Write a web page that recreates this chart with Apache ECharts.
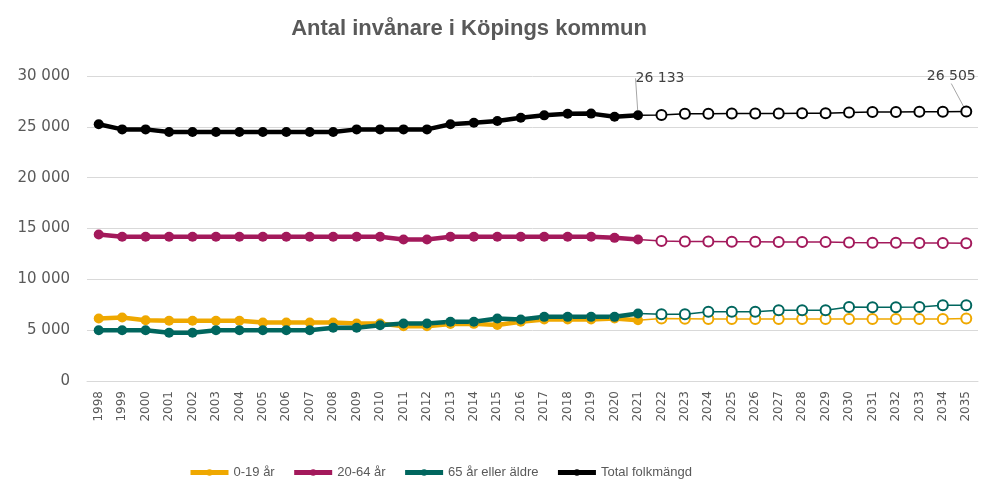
<!DOCTYPE html>
<html>
<head>
<meta charset="utf-8">
<script src="https://cdn.jsdelivr.net/npm/echarts@6/dist/echarts.min.js"></script>
<style>
* { margin: 0; padding: 0; }
html, body { background: #fff; }
#main { width: 993px; height: 483px; }
</style>
</head>
<body>
<div id="main"></div>
<script>
// years
var years = ['1998','1999','2000','2001','2002','2003','2004','2005','2006','2007','2008','2009','2010',
    '2011','2012','2013','2014','2015','2016','2017','2018','2019','2020','2021',
    '2022','2023','2024','2025','2026','2027','2028','2029','2030','2031','2032','2033','2034','2035']

// utfall 1998-2021
var young = [6150,6250,5980,5920,5920,5920,5920,5760,5760,5760,5760,5660,5660,5390,5390,5600,5620,5500,5820,6050,6050,6050,6150,5980]
var adult = [14410,14180,14180,14180,14180,14180,14180,14180,14180,14180,14180,14180,14180,13920,13920,14180,14180,14180,14180,14180,14180,14180,14080,13920]
var old = [5000,5000,5000,4740,4740,5000,5000,5000,5000,5000,5230,5230,5490,5660,5660,5820,5820,6150,6050,6310,6310,6310,6310,6640]
var total = [25250,24750,24750,24500,24500,24500,24500,24500,24500,24500,24500,24750,24750,24750,24750,25250,25400,25570,25900,26130,26290,26300,26000,26133]

// prognos 2022-2035
var youngP = [6150,6120,6100,6100,6100,6100,6100,6100,6100,6100,6100,6100,6100,6150]
var adultP = [13760,13730,13720,13700,13690,13680,13670,13660,13620,13600,13590,13580,13570,13560]
var oldP = [6570,6570,6800,6800,6800,6970,6970,6970,7290,7250,7250,7290,7450,7450]
var totalP = [26160,26280,26290,26300,26310,26320,26330,26340,26420,26450,26470,26480,26490,26505]

var colors = {young:'#EFA800', adult:'#A3195B', old:'#00665E', total:'#000000'}

function fmt(v) {
    return String(v).replace(/\B(?=(\d{3})+(?!\d))/g, ' ')
}

function hist(name, data, color) {
    return {
        name: name,
        type: 'line',
        data: data,
        z: 5,
        symbol: 'circle',
        symbolSize: 10,
        lineStyle: {width: 4.5, color: color},
        itemStyle: {color: color},
        emphasis: {disabled: true}
    }
}

function prog(name, last, data, color) {
    var d = []
    for (var i = 0; i < years.length - data.length - 1; i++) d.push('-')
    d.push({value: last, symbol: 'none'})
    data.forEach(function (v) { d.push(v) })
    return {
        name: name,
        type: 'line',
        data: d,
        z: 3,
        symbol: 'circle',
        symbolSize: 10,
        lineStyle: {width: 1.5, color: color},
        itemStyle: {color: '#fff', borderColor: color, borderWidth: 2},
        emphasis: {disabled: true}
    }
}

var labelStyle = {show: false, position: 'top', formatter: function (p) { return fmt(p.value) },
    fontFamily: 'DejaVu Sans', fontSize: 14, color: '#404040'}

var totalHist = hist('Total folkmängd', total.map(function (v, i) {
    if (i === total.length - 1) return {value: v, label: {show: true}}
    return v
}), colors.total)
totalHist.label = labelStyle
totalHist.labelLayout = function (p) {
    return {dx: 22, dy: -20}
}
totalHist.labelLine = {show: true, lineStyle: {color: '#a6a6a6', width: 1}}

var totalProg = prog('Total folkmängd prognos', total[total.length - 1], totalP, colors.total)
totalProg.data[totalProg.data.length - 1] = {value: totalP[totalP.length - 1], label: {show: true}}
totalProg.label = labelStyle
totalProg.labelLayout = function (p) {
    return {dx: -15, dy: -17}
}
totalProg.labelLine = {show: true, lineStyle: {color: '#a6a6a6', width: 1}}

var chart = echarts.init(document.getElementById('main'))
chart.setOption({
    animation: false,
    title: {
        text: 'Antal invånare i Köpings kommun',
        left: 464,
        textAlign: 'center',
        top: 13,
        textStyle: {fontFamily: 'Liberation Sans', fontWeight: 'bold', fontSize: 22, color: '#595959'}
    },
    legend: {
        data: ['0-19 år', '20-64 år', '65 år eller äldre', 'Total folkmängd'],
        left: 183,
        top: 461,
        itemWidth: 38,
        itemHeight: 8,
        itemGap: 17,
        lineStyle: {width: 5},
        textStyle: {fontFamily: 'Liberation Sans', fontSize: 13, color: '#595959'}
    },
    grid: {left: 87, right: 15, top: 76, bottom: 102},
    xAxis: {
        type: 'category',
        data: years,
        boundaryGap: true,
        axisLine: {lineStyle: {color: '#d9d9d9'}},
        axisTick: {show: false},
        axisLabel: {rotate: 90, fontFamily: 'DejaVu Sans', fontSize: 12, color: '#595959', margin: 10}
    },
    yAxis: {
        type: 'value',
        min: 0,
        max: 30000,
        interval: 5000,
        splitLine: {lineStyle: {color: '#d9d9d9'}},
        axisLabel: {formatter: fmt, fontFamily: 'DejaVu Sans', fontSize: 15, color: '#595959', margin: 17}
    },
    series: [
        hist('0-19 år', young, colors.young),
        hist('20-64 år', adult, colors.adult),
        hist('65 år eller äldre', old, colors.old),
        totalHist,
        prog('0-19 år prognos', young[young.length - 1], youngP, colors.young),
        prog('20-64 år prognos', adult[adult.length - 1], adultP, colors.adult),
        prog('65 år eller äldre prognos', old[old.length - 1], oldP, colors.old),
        totalProg
    ]
})
</script>
</body>
</html>
